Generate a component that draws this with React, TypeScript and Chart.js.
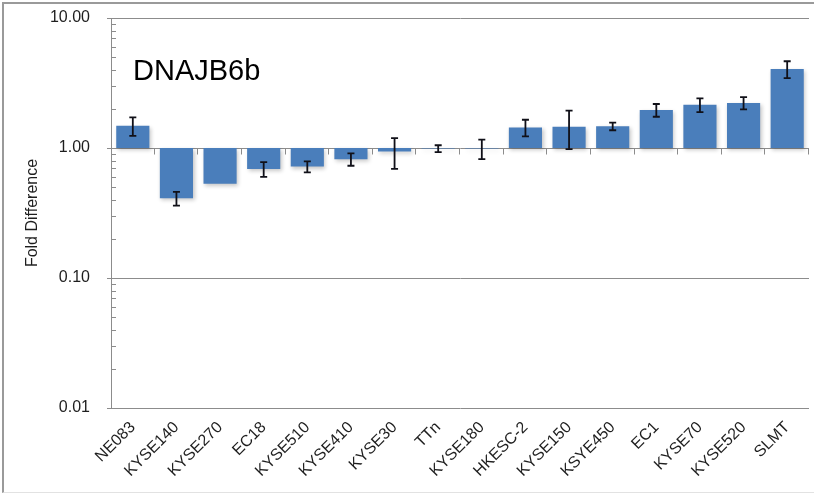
import React, { useEffect, useRef } from "react";
import { Chart, registerables } from "chart.js";

Chart.register(...registerables);

// Cell lines along the x axis
const cellLines = [
  "NE083", "KYSE140", "KYSE270", "EC18", "KYSE510", "KYSE410", "KYSE30", "TTn",
  "KYSE180", "HKESC-2", "KYSE150", "KSYE450", "EC1", "KYSE70", "KYSE520", "SLMT",
];

// Mean fold difference relative to the reference (1.00)
const foldDifference = [
  1.48, 0.41, 0.53, 0.69, 0.72, 0.82, 0.94, 0.99,
  0.99, 1.44, 1.46, 1.47, 1.96, 2.15, 2.22, 4.05,
];

// Standard deviation for each cell line
const standardDeviation = [
  0.24, 0.05, 0, 0.09, 0.07, 0.09, 0.25, 0.06,
  0.17, 0.21, 0.48, 0.1, 0.22, 0.26, 0.24, 0.6,
];

// Labelled decades on the log axis
const yTickValues = [0.01, 0.1, 1, 10];

const geneName = "DNAJB6b";

const FONT = "'Liberation Sans', Arial, Helvetica, sans-serif";
const BAR_COLOR = "#4a7ebb";
const AXIS_COLOR = "#8c8c8c";
const TEXT_COLOR = "#1e1e1e";

const decorations = {
  id: "decorations",
  beforeDatasetDraw(chart: any) {
    const ctx = chart.ctx;
    ctx.save();
    ctx.shadowColor = "rgba(0, 0, 0, 0.22)";
    ctx.shadowBlur = 4;
    ctx.shadowOffsetX = 1.5;
    ctx.shadowOffsetY = 2;
  },
  afterDatasetDraw(chart: any) {
    chart.ctx.restore();
  },
  beforeDatasetsDraw(chart: any) {
    const { ctx, chartArea, scales } = chart;
    const y = scales.y;
    ctx.save();
    ctx.strokeStyle = AXIS_COLOR;
    ctx.lineWidth = 1;
    // minor ticks inside the y axis
    for (const decade of [0.01, 0.1, 1]) {
      for (let k = 2; k <= 9; k++) {
        const py = Math.round(y.getPixelForValue(k * decade)) + 0.5;
        ctx.beginPath();
        ctx.moveTo(chartArea.left, py);
        ctx.lineTo(chartArea.left + 5, py);
        ctx.stroke();
      }
    }
    // category separators hanging below the 1.00 line
    const base = Math.round(y.getPixelForValue(1)) + 0.5;
    const step = (chartArea.right - chartArea.left) / cellLines.length;
    for (let i = 1; i <= cellLines.length; i++) {
      const px = Math.round(chartArea.left + i * step) - 0.5;
      ctx.beginPath();
      ctx.moveTo(px, base);
      ctx.lineTo(px, base + 6);
      ctx.stroke();
    }
    ctx.restore();
  },
  afterDatasetsDraw(chart: any) {
    const { ctx, scales } = chart;
    const x = scales.x;
    const y = scales.y;
    ctx.save();
    ctx.strokeStyle = "#101018";
    ctx.lineWidth = 1.8;
    foldDifference.forEach((v, i) => {
      const sd = standardDeviation[i];
      if (!sd) return;
      const px = x.getPixelForValue(i);
      const top = y.getPixelForValue(v + sd);
      const bottom = y.getPixelForValue(v - sd);
      ctx.beginPath();
      ctx.moveTo(px, top);
      ctx.lineTo(px, bottom);
      ctx.moveTo(px - 3.5, top);
      ctx.lineTo(px + 3.5, top);
      ctx.moveTo(px - 3.5, bottom);
      ctx.lineTo(px + 3.5, bottom);
      ctx.stroke();
    });
    ctx.restore();
  },
  afterDraw(chart: any) {
    const { ctx, chartArea } = chart;
    ctx.save();
    ctx.fillStyle = "#000";
    ctx.font = `29px ${FONT}`;
    ctx.textAlign = "left";
    ctx.textBaseline = "alphabetic";
    ctx.fillText(geneName, chartArea.left + 22, chartArea.top + 62);
    ctx.restore();
  },
};

export default function App() {
  const canvasRef = useRef<HTMLCanvasElement | null>(null);

  useEffect(() => {
    document.body.style.margin = "0";
    const canvas = canvasRef.current;
    if (!canvas) return;
    const chart = new Chart(canvas, {
      type: "bar",
      data: {
        labels: cellLines,
        datasets: [
          {
            data: foldDifference.map((v) => [1, v]) as any,
            backgroundColor: BAR_COLOR,
            borderWidth: 0,
            categoryPercentage: 1,
            barPercentage: 0.76,
          },
        ],
      },
      options: {
        responsive: false,
        animation: false,
        devicePixelRatio: 1,
        layout: { padding: { top: 18, right: 5, left: 0, bottom: 0 } },
        plugins: {
          legend: { display: false },
          tooltip: { enabled: false },
        },
        scales: {
          x: {
            offset: true,
            grid: { display: false, drawTicks: false },
            border: { display: false },
            ticks: {
              autoSkip: false,
              maxRotation: 45,
              minRotation: 45,
              padding: 10,
              color: TEXT_COLOR,
              font: { family: FONT, size: 16 },
            },
            afterFit: (s: any) => {
              s.height = 86;
              s.paddingLeft = 0;
              s.paddingRight = 0;
            },
          },
          y: {
            type: "logarithmic",
            min: 0.01,
            max: 10,
            afterBuildTicks: (s: any) => {
              s.ticks = yTickValues.map((value) => ({ value, major: true }));
            },
            ticks: {
              callback: (v: any) => Number(v).toFixed(2),
              color: TEXT_COLOR,
              padding: 17,
              font: { family: FONT, size: 16 },
            },
            grid: { color: AXIS_COLOR, lineWidth: 1, tickLength: 4, drawTicks: true },
            border: { display: true, color: AXIS_COLOR, width: 1 },
            title: {
              display: true,
              text: "Fold Difference",
              color: TEXT_COLOR,
              font: { family: FONT, size: 16 },
              padding: { top: 23, bottom: 0 },
            },
            afterFit: (s: any) => {
              s.width = 111;
              s.paddingTop = 0;
              s.paddingBottom = 0;
            },
          },
        },
      },
      plugins: [decorations],
    });
    return () => chart.destroy();
  }, []);

  return (
    <div
      style={{
        position: "absolute",
        left: 0,
        top: 0,
        width: 814,
        height: 494,
        overflow: "hidden",
        background: "#fff",
      }}
    >
      <canvas ref={canvasRef} width={814} height={494} style={{ position: "absolute", left: 0, top: 0 }} />
      <div
        style={{
          position: "absolute",
          left: 2,
          top: 2,
          width: 840,
          height: 488,
          borderLeft: "2px solid #9a9a9a",
          borderTop: "2px solid #9a9a9a",
          borderBottom: "1px solid #e2e2e2",
          pointerEvents: "none",
        }}
      />
    </div>
  );
}
